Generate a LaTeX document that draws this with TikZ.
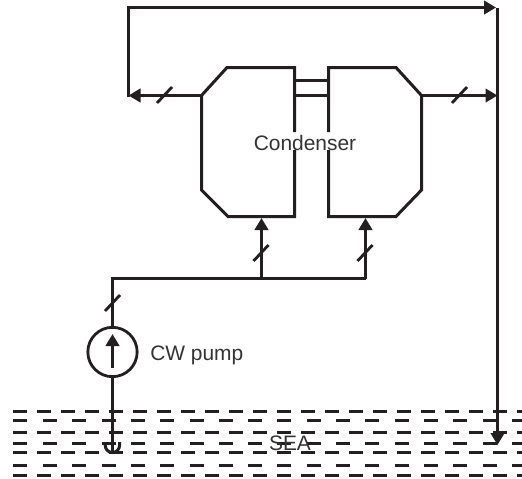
\documentclass[tikz,border=0pt]{standalone}
\usepackage{fontspec}
\setmainfont{Liberation Sans}
\usetikzlibrary{arrows.meta}
\definecolor{ink}{HTML}{231F20}
\definecolor{txt}{HTML}{333333}
\tikzset{
  x=0.75pt,y=-0.75pt,
  pipe/.style={draw=ink,line width=2.25pt,line join=miter},
  flow/.style={pipe,-{Triangle[length=9pt,width=10pt]}},
  tick/.style={draw=ink,line width=2.1pt},
  wave/.style={draw=ink,line width=2.25pt},
  lbl/.style={text=txt,font=\fontsize{15.7pt}{18pt}\selectfont,inner sep=0pt}
}
\begin{document}
\begin{tikzpicture}
\useasboundingbox (0,0) rectangle (522,479);
\begin{scope}
\clip (0,0) rectangle (522,479);
\foreach \y in {411.5,432.5,452.5,475.5}{
  \foreach \k in {0,...,21}{
    \draw[wave] ({13+24*\k},\y) -- ({27+24*\k},\y);
  }
}
\foreach \y in {420.5,443.5,465.5}{
  \draw[wave] (13,\y) -- (27,\y);
  \foreach \k in {0,...,16}{
    \draw[wave] ({43+29.3*\k},\y) -- ({57+29.3*\k},\y);
  }
}
\end{scope}
% coordinates
\coordinate (tl) at (128.5,7.5);
\coordinate (tr) at (497.5,7.5);
\coordinate (tra) at (496,7.5);
\coordinate (ml) at (128.5,95.5);
\coordinate (br) at (497.5,445);
\coordinate (rout) at (497.5,95.5);
% condenser halves
\draw[pipe] (294.5,132) -- (294.5,67.5) -- (227,67.5) -- (201.5,95.5) -- (201.5,190) -- (228,216.5) -- (294.5,216.5) -- (294.5,150);
\draw[pipe] (328.5,132) -- (328.5,67.5) -- (396,67.5) -- (421.5,95.5) -- (421.5,190) -- (396,216.5) -- (328.5,216.5) -- (328.5,150);
\coordinate (lout) at (201.5,95.5);
\coordinate (rsrc) at (421.5,95.5);
\draw[pipe] (294.5,80.5) -- (328.5,80.5);
\draw[pipe] (294.5,95.5) -- (328.5,95.5);
% circuits
\draw[flow] (lout) -- (ml);
\draw[pipe,line cap=rect] (ml) -- (tl);
\draw[flow] (tl) -- (tra);
\draw[flow] (rsrc) -- (rout);
\draw[pipe] (tr) -- (rout);
\draw[flow] (rout) -- (br);
% inlet headers
\coordinate (h0) at (112.5,278.5);
\coordinate (h1) at (261.5,278.5);
\coordinate (h2) at (365.5,278.5);
\coordinate (t1) at (261.5,218);
\coordinate (t2) at (365.5,218);
\draw[flow] (h1) -- (t1);
\draw[flow] (h2) -- (t2);
\node[circle,draw=ink,line width=2.1pt,minimum size=37pt,inner sep=0pt,outer sep=0pt] (pump) at (112.5,352) {};
\draw[pipe] (h2) -- (h0) -- (pump.north);
\coordinate (suc) at (112.5,452);
\draw[pipe] (pump.south) -- (suc);
\coordinate (pa) at (112.5,368);
\coordinate (pb) at (112.5,334);
\draw[flow] (pa) -- (pb);
% suction cup
\draw[pipe] (105.2,442) -- (105.2,445.3) arc[start angle=180,end angle=360,radius=5.4pt] -- (119.6,442);
% ticks
\draw[tick] (157,103) -- (172,87);
\draw[tick] (452,103) -- (467,87);
\draw[tick] (253.5,261) -- (268.5,245);
\draw[tick] (357.5,261) -- (372.5,245);
\draw[tick] (105,311) -- (120,295);
% labels
\node[lbl] (cond) at (305,143) {Condenser};
\node[lbl,anchor=base west] (cw) at (150,360) {CW pump};
\node[lbl,anchor=base] (sea) at (290,450) {SEA};
\end{tikzpicture}
\end{document}
